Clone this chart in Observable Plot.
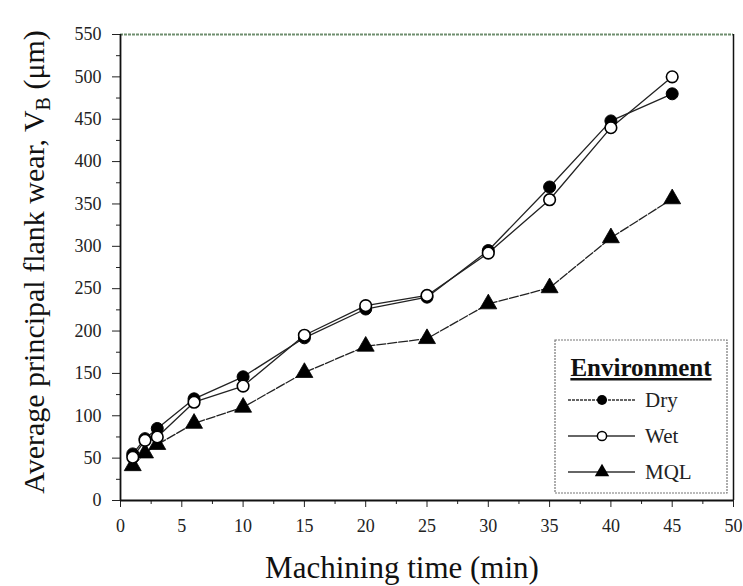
<!DOCTYPE html>
<html><head><meta charset="utf-8">
<script src="https://cdn.jsdelivr.net/npm/d3@7"></script>
<script src="https://cdn.jsdelivr.net/npm/@observablehq/plot@0.6"></script>
<style>body{margin:0;background:#fff}#chart{position:relative;width:743px;height:586px}</style>
</head><body><div id="chart"></div>
<script>
const time = [1, 2, 3, 6, 10, 15, 20, 25, 30, 35, 40, 45];
const dry  = [55, 73, 85, 120, 146, 192, 226, 240, 295, 370, 448, 480];
const wet  = [51, 71, 75, 116, 135, 195, 230, 242, 292, 355, 440, 500];
const mql  = [41, 56, 66, 91, 110, 151, 182, 191, 232, 251, 310, 356];
const seriesNames = ["Dry", "Wet", "MQL"];
const xTicks = [0, 5, 10, 15, 20, 25, 30, 35, 40, 45, 50];
const xMinor = [2.5, 7.5, 12.5, 17.5, 22.5, 27.5, 32.5, 37.5, 42.5, 47.5];
const yTicks = [0, 50, 100, 150, 200, 250, 300, 350, 400, 450, 500, 550];
const yMinor = [25, 75, 125, 175, 225, 275, 325, 375, 425, 475, 525];
const xLabel = "Machining time (min)";
const legendTitle = "Environment";

const mk = (vals, s) => time.map((t, i) => ({t, v: vals[i], s}));
const dDry = mk(dry, "Dry"), dWet = mk(wet, "Wet"), dMql = mk(mql, "MQL");

const serif = "\"Liberation Serif\", \"DejaVu Serif\", \"Times New Roman\", Times, serif";
const plot = Plot.plot({
  width: 743, height: 586,
  marginLeft: 120, marginRight: 10, marginTop: 34, marginBottom: 86,
  style: {fontFamily: serif, fontSize: "18px", color: "#222", background: "#fff"},
  x: {domain: [0, 50]},
  y: {domain: [0, 550]},
  marks: [
    Plot.ruleY([550], {stroke: "#6e8e6e", strokeWidth: 2, strokeDasharray: "3,1"}),
    Plot.ruleX([50], {stroke: "#111", strokeWidth: 1.5}),
    Plot.axisX({ticks: xMinor, tickSize: 4, tickFormat: () => "", label: null, stroke: "#222"}),
    Plot.axisY({ticks: yMinor, tickSize: 4, tickFormat: () => "", label: null, stroke: "#222"}),
    Plot.axisX({ticks: xTicks, tickSize: 7, tickPadding: 12, label: null, fontSize: 18, stroke: "#222", fill: "#222"}),
    Plot.axisY({ticks: yTicks, tickSize: 8, tickPadding: 11, label: null, fontSize: 18, stroke: "#222", fill: "#222"}),
    Plot.ruleX([0], {stroke: "#111", strokeWidth: 1.8}),
    Plot.ruleY([0], {stroke: "#111", strokeWidth: 1.8}),
    Plot.line(dMql, {x: "t", y: "v", stroke: "#222", strokeWidth: 1.3, strokeDasharray: "9,2"}),
    Plot.line(dDry, {x: "t", y: "v", stroke: "#222", strokeWidth: 1.3}),
    Plot.line(dWet, {x: "t", y: "v", stroke: "#222", strokeWidth: 1.3}),
    Plot.dot(dMql, {x: "t", y: "v", symbol: "triangle", r: 6.3, fill: "#000", stroke: "#000", strokeWidth: 0.8}),
    Plot.dot(dDry, {x: "t", y: "v", r: 6, fill: "#000", stroke: "#000", strokeWidth: 1}),
    Plot.dot(dWet, {x: "t", y: "v", r: 5.8, fill: "#fff", stroke: "#000", strokeWidth: 1.6})
  ]
});
document.getElementById("chart").appendChild(plot);

const svg = d3.select(plot);
svg.append("text").attr("x", 402).attr("y", 578).attr("text-anchor", "middle")
  .style("font-family", serif).attr("font-size", 31).attr("fill", "#111").text(xLabel);
const yl = svg.append("text").attr("transform", "translate(44,262) rotate(-90)")
  .attr("text-anchor", "middle").style("font-family", serif).attr("font-size", 30).attr("fill", "#111");
yl.append("tspan").text("Average principal flank wear, V");
yl.append("tspan").attr("font-size", 20).attr("dy", "0.3em").text("B");
yl.append("tspan").attr("dy", "-0.2em").text(" (\u03bcm)");

// legend
const lg = svg.append("g").style("font-family", serif).attr("text-anchor", "start");
lg.append("rect").attr("x", 555).attr("y", 340).attr("width", 172).attr("height", 153)
  .attr("fill", "#fff").attr("stroke", "#777").attr("stroke-width", 1.2).attr("stroke-dasharray", "2,1");
lg.append("text").attr("x", 641).attr("y", 376).attr("text-anchor", "middle")
  .attr("font-size", 25).attr("font-weight", "bold").attr("fill", "#111")
  .attr("text-decoration", "underline").text(legendTitle);
const rows = [400, 436, 472];
seriesNames.forEach((name, i) => {
  const y = rows[i];
  lg.append("line").attr("x1", 568).attr("x2", 635).attr("y1", y).attr("y2", y)
    .attr("stroke", "#333").attr("stroke-width", 1.3).attr("stroke-dasharray", i === 0 ? "3,1" : null);
  if (i === 0) lg.append("circle").attr("cx", 602).attr("cy", y).attr("r", 5).attr("fill", "#000");
  if (i === 1) lg.append("circle").attr("cx", 602).attr("cy", y).attr("r", 4.6).attr("fill", "#fff").attr("stroke", "#000").attr("stroke-width", 1.5);
  if (i === 2) lg.append("path").attr("d", d3.symbol(d3.symbolTriangle, 90)()).attr("transform", `translate(602,${y})`).attr("fill", "#000");
  lg.append("text").attr("x", 645).attr("y", y + 7).attr("text-anchor", "start").attr("font-size", 21).attr("fill", "#222").text(name);
});
</script></body></html>
